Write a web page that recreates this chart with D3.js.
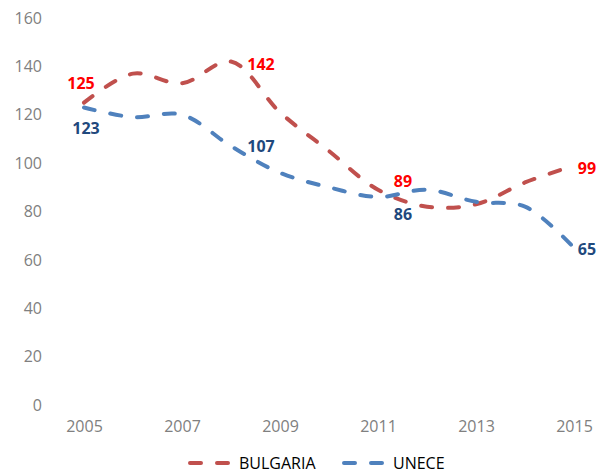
<!DOCTYPE html>
<html>
<head>
<meta charset="utf-8">
<style>
  body { margin: 0; background: #fff; }
  text { font-family: "Open Sans", sans-serif; }
</style>
</head>
<body>
<svg id="chart" width="602" height="474"></svg>

<script src="https://d3js.org/d3.v7.min.js"></script>
<script>
// data
var years = [2005, 2006, 2007, 2008, 2009, 2010, 2011, 2012, 2013, 2014, 2015];
var bulgaria = [125, 137, 133, 142, 121, 105, 89, 82, 83, 92, 99];
var unece = [123, 119, 120, 107, 96, 90, 86, 89, 84, 82, 65];
var yTicks = [0, 20, 40, 60, 80, 100, 120, 140, 160];
var xTicks = [2005, 2007, 2009, 2011, 2013, 2015];
var seriesNames = ["BULGARIA", "UNECE"];

var svg = d3.select("#chart");

var x = d3.scaleLinear().domain([2005, 2015]).range([84, 574]);
var y = d3.scaleLinear().domain([0, 160]).range([405, 18]);

// axes, no lines, only labels
var yAxis = svg.append("g")
    .attr("transform", "translate(48,0)")
    .call(d3.axisLeft(y).tickValues(yTicks).tickSize(0).tickPadding(6));
yAxis.select(".domain").remove();
yAxis.selectAll("text")
    .style("font-family", "'Open Sans', sans-serif")
    .style("font-size", "16px")
    .attr("fill", "#808080");

var xAxis = svg.append("g")
    .attr("transform", "translate(0,417)")
    .call(d3.axisBottom(x).tickValues(xTicks).tickFormat(d3.format("d")).tickSize(0).tickPadding(4));
xAxis.select(".domain").remove();
xAxis.selectAll("text")
    .style("font-family", "'Open Sans', sans-serif")
    .style("font-size", "16px")
    .attr("fill", "#808080");

var series = [
  { name: seriesNames[0], values: bulgaria, color: "#C0504D", labelColor: "#FF0000" },
  { name: seriesNames[1], values: unece, color: "#4F81BD", labelColor: "#1F497D" }
];

var line = d3.line()
    .x(function(d, i) { return x(years[i]); })
    .y(function(d) { return y(d); })
    .curve(d3.curveCatmullRom.alpha(0.5));

series.forEach(function(s) {
  svg.append("path")
      .datum(s.values)
      .attr("fill", "none")
      .attr("stroke", s.color)
      .attr("stroke-width", 4)
      .attr("stroke-linecap", "round")
      .attr("stroke-dasharray", "11,16")
      .attr("d", line);
});

// data labels: which points get one, and where they sit around the point
var labelSpots = [
  [ { i: 0, dx: -3, dy: -14 }, { i: 3, dx: 30, dy: 8 }, { i: 6, dx: 25, dy: -3 }, { i: 10, dx: 13, dy: 8 } ],
  [ { i: 0, dx: 2, dy: 27 }, { i: 3, dx: 30, dy: 6 }, { i: 6, dx: 25, dy: 23 }, { i: 10, dx: 13, dy: 7 } ]
];

series.forEach(function(s, k) {
  svg.append("g").selectAll("text")
    .data(labelSpots[k])
    .join("text")
      .attr("x", function(d) { return x(years[d.i]) + d.dx; })
      .attr("y", function(d) { return y(s.values[d.i]) + d.dy; })
      .attr("text-anchor", "middle")
      .attr("font-size", 16)
      .attr("font-weight", "bold")
      .attr("fill", s.labelColor)
      .text(function(d) { return s.values[d.i]; });
});

// legend
var legend = svg.append("g").attr("transform", "translate(0,463)");
var legendX = [188, 342];
series.forEach(function(s, k) {
  var g = legend.append("g").attr("transform", "translate(" + legendX[k] + ",0)");
  g.append("line")
      .attr("x1", 2).attr("x2", 41)
      .attr("stroke", s.color)
      .attr("stroke-width", 4)
      .attr("stroke-linecap", "round")
      .attr("stroke-dasharray", "11,16");
  g.append("text")
      .attr("x", 51)
      .attr("y", 0)
      .attr("dy", "0.35em")
      .attr("font-size", 16)
      .attr("fill", "#000")
      .text(s.name);
});
</script>
</body>
</html>
